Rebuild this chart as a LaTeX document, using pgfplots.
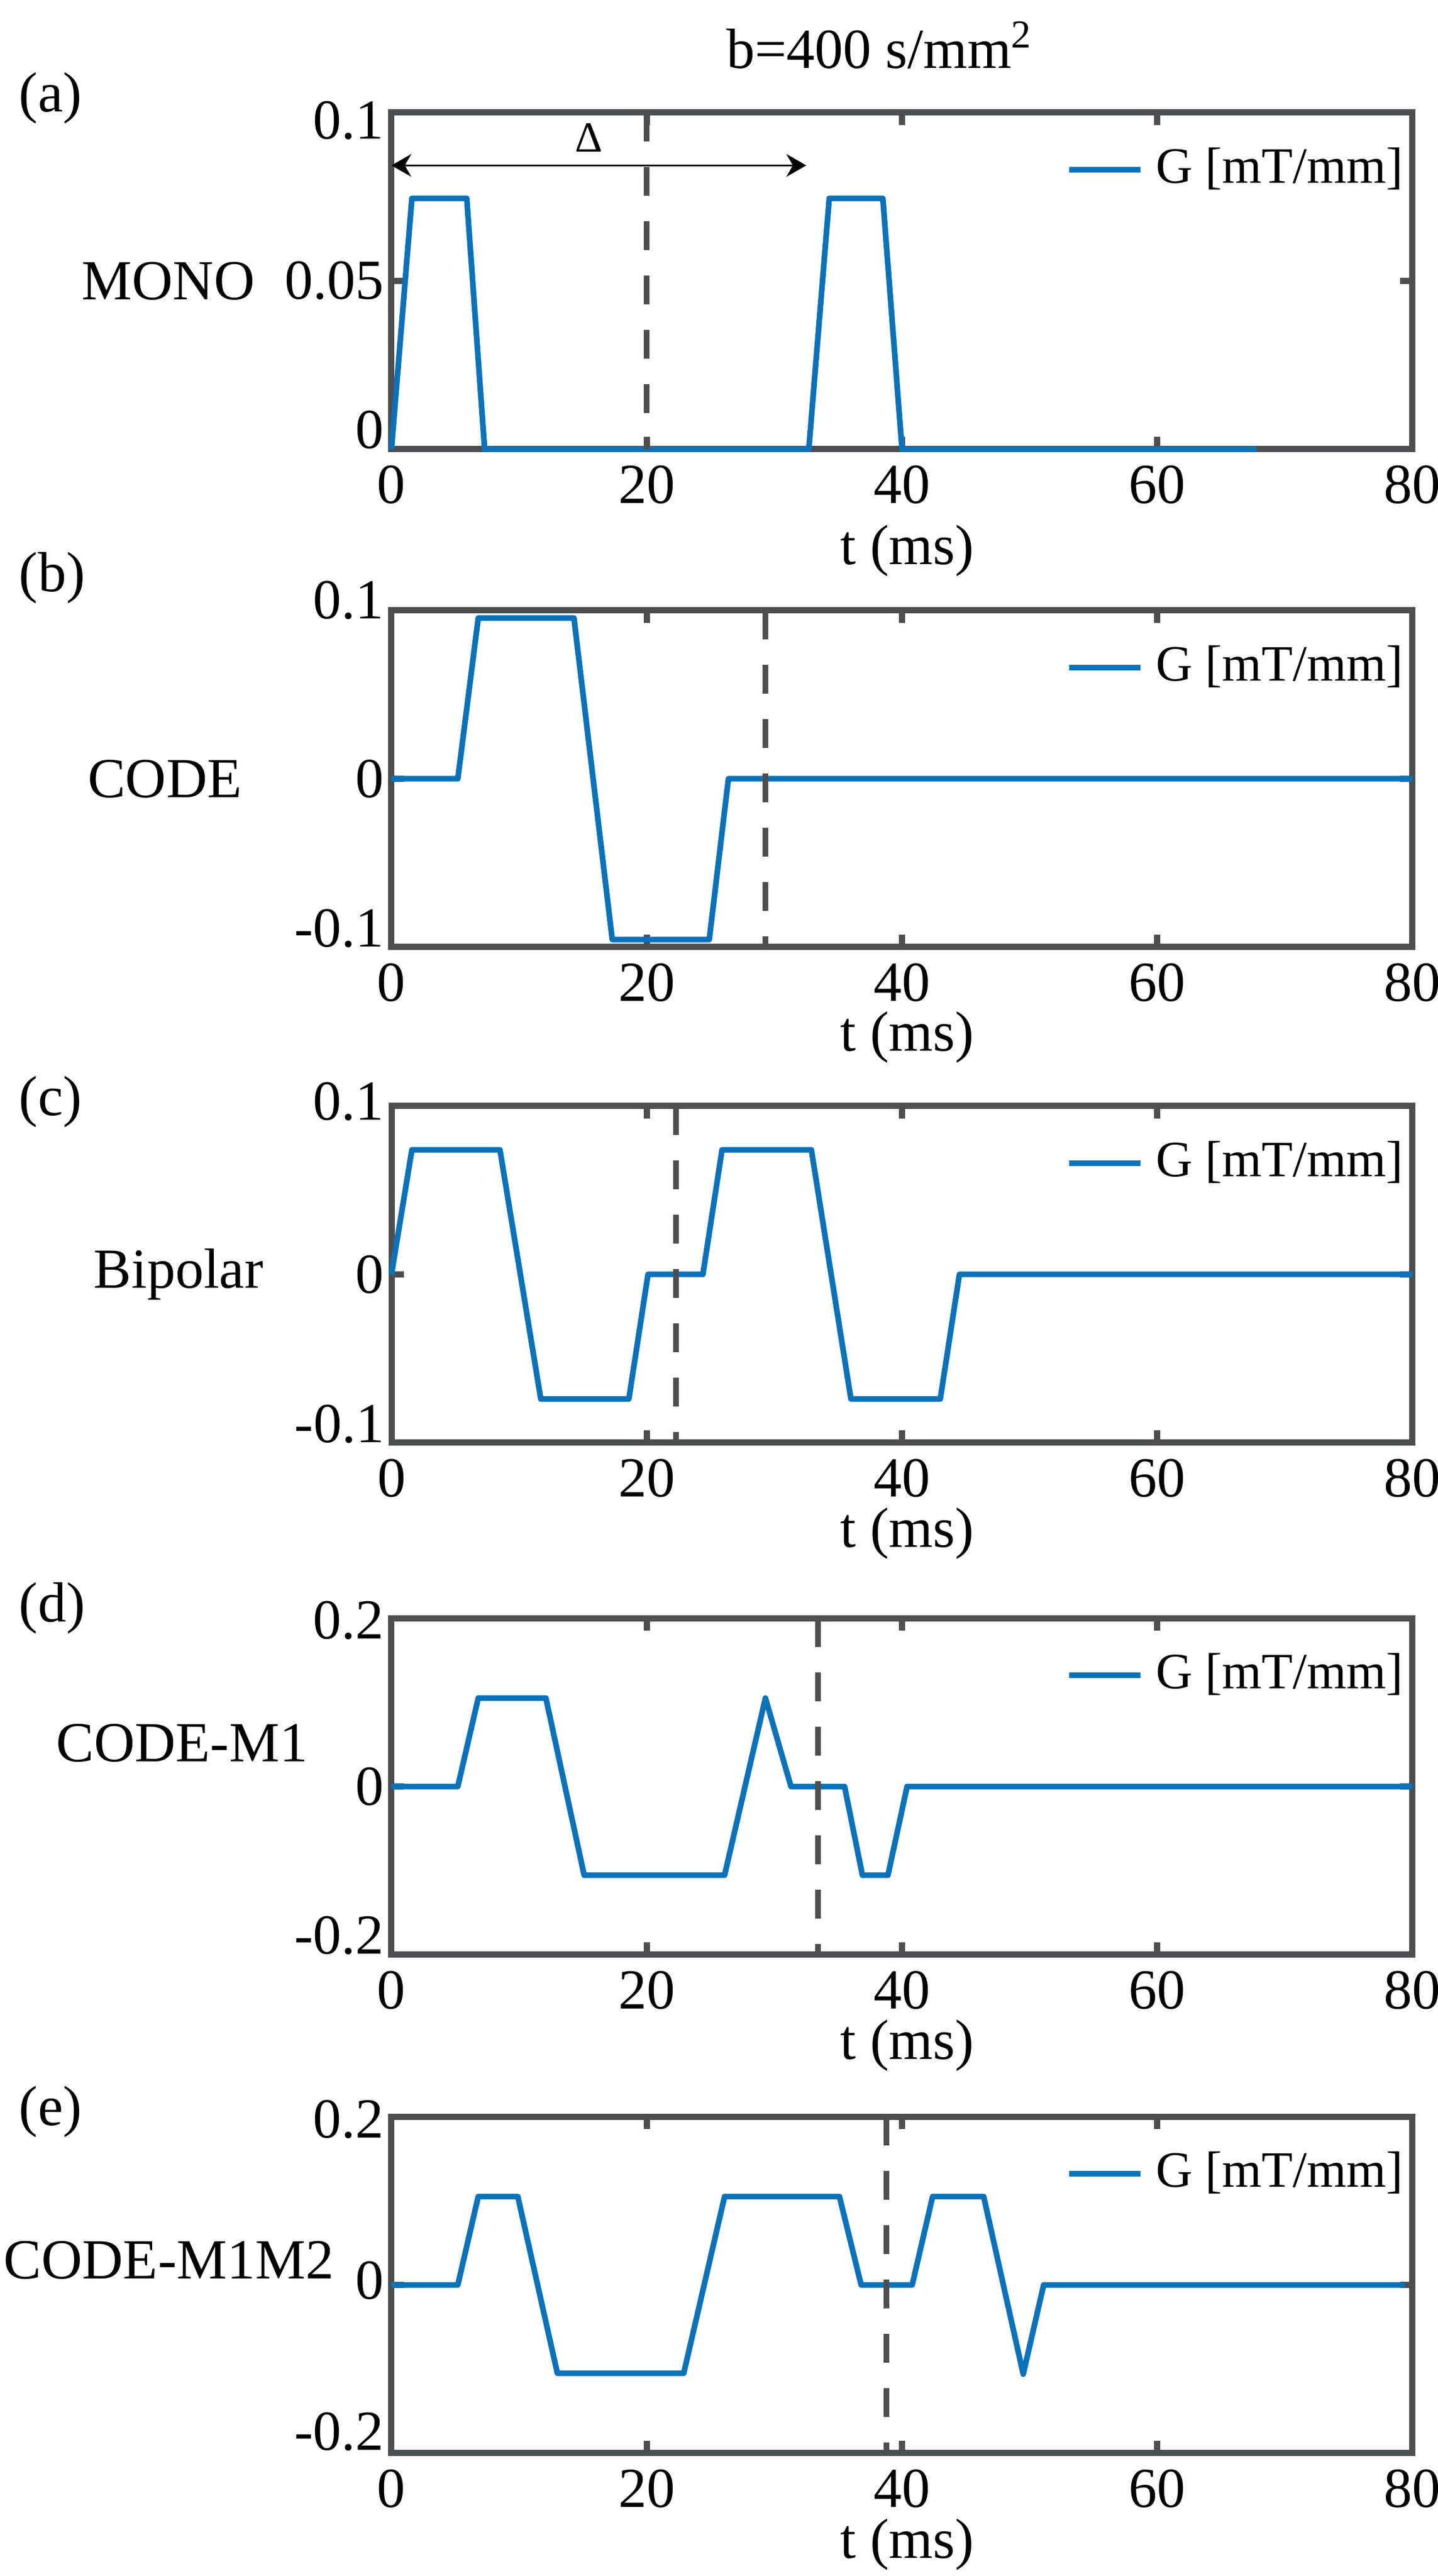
\documentclass[border=0pt]{standalone}
\usepackage{fontspec}
\setmainfont{Liberation Serif}
\usepackage{pgfplots}
\pgfplotsset{compat=1.18}
\usetikzlibrary{arrows.meta}
\definecolor{framegray}{RGB}{77,78,80}
\definecolor{gblue}{RGB}{11,114,186}
\newcommand{\rb}[2]{\raisebox{#1}[\height][\depth]{#2}}
\pgfplotsset{
  panel/.style={
    width=180.5pt, height=59.5pt, scale only axis,
    anchor=south west,
    xmin=0, xmax=80, xtick={0,20,40,60,80}, xticklabels={0,20,40,60,80},
    axis line style={line width=1.1pt, color=framegray},
    tick align=inside, major tick length=2.2pt,
    tick style={line width=1.1pt, color=framegray},
    tick label style={font=\fontsize{10}{12}\selectfont, text=black},
    xticklabel style={inner sep=0pt, yshift=-2.7pt},
    yticklabel style={inner sep=0pt, xshift=-1.1pt},
    label style={font=\fontsize{10}{12}\selectfont},
    xlabel={t (ms)},
    ylabel style={rotate=-90, anchor=center},
    xlabel style={inner sep=0pt},
    clip=false,
    legend style={draw=none, fill=none, at={(axis description cs:0.9922,0.83)}, anchor=east,
      inner sep=0pt, font=\fontsize{9}{10.8}\selectfont, nodes={inner sep=0pt}},
    legend image code/.code={\draw[#1] (0pt,0pt) -- (12.6pt,0pt); \path (14.8pt,0pt);},
  },
  gline/.style={color=gblue, line width=1pt, line join=round},
  vdash/.style={color=framegray, line width=1pt, dash pattern=on 5.1pt off 4.5pt, forget plot},
}
\begin{document}
\begin{tikzpicture}[x=1pt,y=1pt]
\path (0,0) rectangle (254.2,455.3);
% title and panel letters
\node[anchor=base, font=\fontsize{10}{12}\selectfont] at (155.6,443.2) {b=400 s/mm\textsuperscript{2}};
\node[anchor=west, inner sep=0pt, font=\fontsize{10}{12}\selectfont] at (3.2,437.9) {(a)};
\node[anchor=west, inner sep=0pt, font=\fontsize{10}{12}\selectfont] at (3.2,353.2) {(b)};
\node[anchor=west, inner sep=0pt, font=\fontsize{10}{12}\selectfont] at (3.2,260.6) {(c)};
\node[anchor=west, inner sep=0pt, font=\fontsize{10}{12}\selectfont] at (3.2,171.1) {(d)};
\node[anchor=west, inner sep=0pt, font=\fontsize{10}{12}\selectfont] at (3.2,82.1) {(e)};

% (a) MONO
\begin{axis}[panel, at={(69.2pt,375.9pt)},
  ymin=0, ymax=0.1, ytick={0,0.05,0.1}, yticklabels={\rb{3.4pt}{0},0.05,\rb{-1.4pt}{0.1}},
  ylabel={MONO}, ylabel style={at={(axis description cs:-0.2185,0.5)}},
  xlabel style={at={(axis description cs:0.505,-0.3025)}, anchor=center}]
\addplot[gline] coordinates {(0,0) (1.6,0.0745) (5.9,0.0745) (7.3,0) (32.7,0) (34.3,0.0745) (38.5,0.0745) (40.0,0) (67.8,0)};
\addlegendentry{G [mT/mm]}
\addplot[vdash] coordinates {(20,0.1) (20,0)};
\draw[line width=0.35pt, {Stealth[length=3.5pt,width=4pt]}-{Stealth[length=3.5pt,width=4pt]}] (axis cs:0,0.0843) -- (axis cs:32.5,0.0843);
\node[font=\fontsize{7.6}{9}\selectfont, inner sep=0pt] at (axis cs:15.47,0.0925) {Δ};
\end{axis}

% (b) CODE
\begin{axis}[panel, at={(69.2pt,287.9pt)},
  ymin=-0.1, ymax=0.1, ytick={-0.1,0,0.1}, yticklabels={\rb{3.3pt}{-0.1},0,\rb{1.8pt}{0.1}},
  ylabel={CODE}, ylabel style={at={(axis description cs:-0.222,0.5)}},
  xlabel style={at={(axis description cs:0.505,-0.268)}, anchor=center}]
\addplot[gline] coordinates {(0,0) (5.2,0) (6.8,0.0955) (14.3,0.0955) (17.3,-0.0955) (24.9,-0.0955) (26.4,0) (80,0)};
\addlegendentry{G [mT/mm]}
\addplot[vdash] coordinates {(29.3,0.1) (29.3,-0.1)};
\end{axis}

% (c) Bipolar
\begin{axis}[panel, at={(69.2pt,200.3pt)},
  ymin=-0.1, ymax=0.1, ytick={-0.1,0,0.1}, yticklabels={\rb{3.3pt}{-0.1},0,\rb{0.8pt}{0.1}},
  ylabel={Bipolar}, ylabel style={at={(axis description cs:-0.2085,0.5)}},
  xlabel style={at={(axis description cs:0.505,-0.27)}, anchor=center}]
\addplot[gline] coordinates {(0,0) (1.6,0.074) (8.5,0.074) (11.7,-0.074) (18.6,-0.074) (20.1,0) (24.4,0) (25.9,0.074) (32.9,0.074) (36.0,-0.074) (43.0,-0.074) (44.5,0) (80,0)};
\addlegendentry{G [mT/mm]}
\addplot[vdash] coordinates {(22.3,0.1) (22.3,-0.1)};
\end{axis}

% (d) CODE-M1
\begin{axis}[panel, at={(69.2pt,109.8pt)},
  ymin=-0.2, ymax=0.2, ytick={-0.2,0,0.2}, yticklabels={\rb{3.4pt}{-0.2},0,\rb{-0.4pt}{0.2}},
  ylabel={CODE-M1}, ylabel style={at={(axis description cs:-0.205,0.628)}},
  xlabel style={at={(axis description cs:0.505,-0.27)}, anchor=center}]
\addplot[gline] coordinates {(0,0) (5.2,0) (6.8,0.105) (12.1,0.105) (15.1,-0.1055) (26.1,-0.1055) (29.3,0.105) (31.3,0) (35.5,0) (36.9,-0.1055) (38.9,-0.1055) (40.4,0) (80,0)};
\addlegendentry{G [mT/mm]}
\addplot[vdash] coordinates {(33.4,0.2) (33.4,-0.2)};
\end{axis}

% (e) CODE-M1M2
\begin{axis}[panel, at={(69.2pt,21.7pt)},
  ymin=-0.2, ymax=0.2, ytick={-0.2,0,0.2}, yticklabels={\rb{3.8pt}{-0.2},\rb{0.8pt}{0},\rb{-0.5pt}{0.2}},
  ylabel={CODE-M1M2}, ylabel style={at={(axis description cs:-0.218,0.573)}},
  xlabel style={at={(axis description cs:0.505,-0.272)}, anchor=center}]
\addplot[gline] coordinates {(0,0) (5.2,0) (6.8,0.105) (9.9,0.105) (13.0,-0.105) (22.9,-0.105) (26.1,0.105) (35.1,0.105) (36.8,0) (40.8,0) (42.4,0.105) (46.4,0.105) (49.5,-0.106) (51.1,0) (79.4,0)};
\addlegendentry{G [mT/mm]}
\addplot[vdash] coordinates {(38.8,0.2) (38.8,-0.2)};
\end{axis}

\pgfresetboundingbox
\path (0,0) rectangle (254.2,455.3);
\end{tikzpicture}
\end{document}
